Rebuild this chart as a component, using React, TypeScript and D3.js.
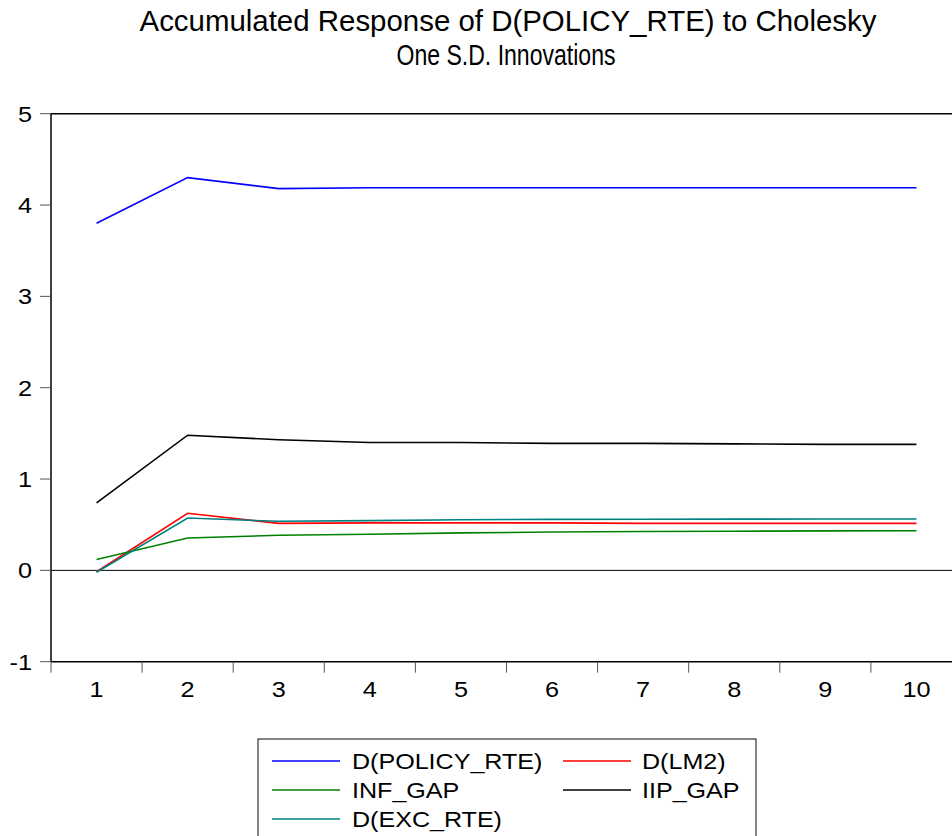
import React from "react";
import * as d3 from "d3";

const periods = [1, 2, 3, 4, 5, 6, 7, 8, 9, 10];
const yTicks = [-1, 0, 1, 2, 3, 4, 5];
const policyRte = [3.80, 4.30, 4.18, 4.19, 4.19, 4.19, 4.19, 4.19, 4.19, 4.19];
const lm2 = [-0.015, 0.625, 0.515, 0.52, 0.52, 0.52, 0.515, 0.515, 0.515, 0.515];
const infGap = [0.12, 0.354, 0.384, 0.395, 0.41, 0.42, 0.425, 0.428, 0.432, 0.434];
const iipGap = [0.74, 1.48, 1.43, 1.40, 1.40, 1.39, 1.39, 1.385, 1.38, 1.38];
const excRte = [-0.02, 0.573, 0.537, 0.545, 0.555, 0.558, 0.56, 0.561, 0.562, 0.562];

const seriesNames = ["D(POLICY_RTE)", "D(LM2)", "INF_GAP", "IIP_GAP", "D(EXC_RTE)"];
const seriesValues = [policyRte, lm2, infGap, iipGap, excRte];
const seriesColors = ["#0000ff", "#ff0000", "#008000", "#000000", "#008080"];

const titleLines = ["Accumulated Response of D(POLICY_RTE) to Cholesky", "One S.D. Innovations"];

export default function App() {
  const W = 952, H = 836;
  const left = 51, top = 113.7, bottom = 661.7, right = 962;
  const x = d3.scaleBand<number>().domain(periods).range([left, right]);
  const y = d3.scaleLinear().domain([-1, 5]).range([bottom, top]);
  const bw = x.bandwidth();
  const line = d3
    .line<number>()
    .x((_, i) => (x(periods[i]) as number) + bw / 2)
    .y((v) => y(v));
  const font = "'Liberation Sans', Arial, sans-serif";

  const legendItems = seriesNames.map((n, i) => {
    const col = i % 2;
    const row = Math.floor(i / 2);
    return { name: n, color: seriesColors[i], col, row };
  });

  return (
    <svg
      width={W}
      height={H}
      style={{ position: "absolute", left: 0, top: 0, background: "#fff" }}
      fontFamily={font}
    >
      <rect x={0} y={0} width={W} height={H} fill="#fff" />
      <text
        x={508}
        y={31}
        fontSize={29}
        textAnchor="middle"
        textLength={737}
        lengthAdjust="spacingAndGlyphs"
      >
        {titleLines[0]}
      </text>
      <text
        x={506}
        y={65}
        fontSize={29}
        textAnchor="middle"
        textLength={219}
        lengthAdjust="spacingAndGlyphs"
      >
        {titleLines[1]}
      </text>

      {/* zero line */}
      <line x1={left} x2={W} y1={y(0)} y2={y(0)} stroke="#000" strokeWidth={1} />

      {/* data lines */}
      {seriesValues.map((vals, i) => (
        <path key={i} d={line(vals) || ""} fill="none" stroke={seriesColors[i]} strokeWidth={1.6} />
      ))}

      {/* frame */}
      <line x1={left} x2={W} y1={top} y2={top} stroke="#000" strokeWidth={1.5} />
      <line x1={left} x2={W} y1={bottom} y2={bottom} stroke="#000" strokeWidth={1.5} />
      <line x1={left} x2={left} y1={top} y2={bottom} stroke="#000" strokeWidth={1.5} />

      {/* y ticks */}
      {yTicks.map((t) => (
        <g key={t}>
          <line x1={40} x2={left} y1={y(t)} y2={y(t)} stroke="#555" strokeWidth={1} />
          <text
            transform={`translate(32,${y(t) + 8}) scale(1.15,1)`}
            fontSize={22}
            textAnchor="end"
          >
            {t}
          </text>
        </g>
      ))}

      {/* x ticks */}
      {periods.map((p) => (
        <g key={p}>
          <line
            x1={x(p) as number}
            x2={x(p) as number}
            y1={bottom}
            y2={bottom + 11}
            stroke="#555"
            strokeWidth={1}
          />
          <text
            transform={`translate(${(x(p) as number) + bw / 2},697) scale(1.15,1)`}
            fontSize={22}
            textAnchor="middle"
          >
            {p}
          </text>
        </g>
      ))}

      {/* legend */}
      <rect x={258} y={739} width={498} height={120} fill="#fff" stroke="#333" strokeWidth={1.2} />
      {legendItems.map((it) => {
        const lx = it.col === 0 ? 272 : 563;
        const tx = it.col === 0 ? 352 : 642;
        const ly = 761 + it.row * 29;
        return (
          <g key={it.name}>
            <line x1={lx} x2={lx + 68} y1={ly} y2={ly} stroke={it.color} strokeWidth={1.5} />
            <text transform={`translate(${tx},${ly + 8}) scale(1.14,1)`} fontSize={22}>
              {it.name}
            </text>
          </g>
        );
      })}
    </svg>
  );
}
